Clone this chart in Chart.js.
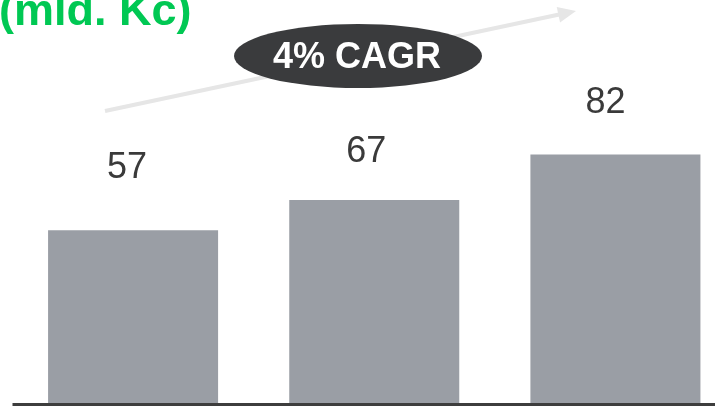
<!DOCTYPE html>
<html>
<head>
<meta charset="utf-8">
<script src="https://cdn.jsdelivr.net/npm/chart.js@4"></script>
<style>
  html, body { margin: 0; padding: 0; background: #fff; overflow: hidden; }
  #wrap { width: 736px; height: 407px; }
</style>
</head>
<body>
<div id="wrap"><canvas id="revenueChart" width="736" height="407"></canvas></div>
<script>
// Revenue by year (bn CZK)
const years = ['2019', '2020', '2021'];
const revenue = [57, 67, 82];
const cagrLabel = '4% CAGR';
const unitLabel = '(mld. Kc)';

// value labels sit a little left of and above each bar
const labelShiftX = [-6, -8, -10];
const labelLift = [52, 38, 42];

const overlay = {
    id: 'overlay',
    afterDatasetsDraw(chart) {
        const ctx = chart.ctx;
        const area = chart.chartArea;
        const bars = chart.getDatasetMeta(0).data;

        ctx.save();

        // baseline
        ctx.strokeStyle = '#3d3d3d';
        ctx.lineWidth = 3;
        ctx.beginPath();
        ctx.moveTo(area.left, area.bottom + 1.5);
        ctx.lineTo(chart.width, area.bottom + 1.5);
        ctx.stroke();

        // value labels
        ctx.fillStyle = '#3a3a3a';
        ctx.font = '36px "Liberation Sans", Arial, sans-serif';
        ctx.textAlign = 'center';
        ctx.textBaseline = 'alphabetic';
        bars.forEach((bar, i) => {
            ctx.fillText(String(revenue[i]), bar.x + labelShiftX[i], bar.y - labelLift[i]);
        });

        // growth arrow
        const x0 = 105, y0 = 111, x1 = 576, y1 = 11;
        const ang = Math.atan2(y1 - y0, x1 - x0);
        ctx.strokeStyle = '#e6e6e6';
        ctx.fillStyle = '#e6e6e6';
        ctx.lineWidth = 4;
        ctx.beginPath();
        ctx.moveTo(x0, y0);
        ctx.lineTo(x1 - 16 * Math.cos(ang), y1 - 16 * Math.sin(ang));
        ctx.stroke();
        ctx.beginPath();
        ctx.moveTo(x1, y1);
        ctx.lineTo(x1 - 18 * Math.cos(ang) + 8 * Math.sin(ang), y1 - 18 * Math.sin(ang) - 8 * Math.cos(ang));
        ctx.lineTo(x1 - 18 * Math.cos(ang) - 8 * Math.sin(ang), y1 - 18 * Math.sin(ang) + 8 * Math.cos(ang));
        ctx.closePath();
        ctx.fill();

        // CAGR badge
        ctx.fillStyle = '#3a3b3d';
        ctx.beginPath();
        ctx.ellipse(358, 56, 124, 32, 0, 0, Math.PI * 2);
        ctx.fill();
        ctx.fillStyle = '#ffffff';
        ctx.font = 'bold 36px "Liberation Sans", Arial, sans-serif';
        ctx.textBaseline = 'middle';
        ctx.fillText(cagrLabel, 357, 58);

        // unit title
        ctx.fillStyle = '#00c853';
        ctx.font = 'bold 45px "Liberation Sans", Arial, sans-serif';
        ctx.textAlign = 'left';
        ctx.textBaseline = 'alphabetic';
        ctx.fillText(unitLabel, -1, 25);

        ctx.restore();
    }
};

new Chart(document.getElementById('revenueChart'), {
    type: 'bar',
    data: {
        labels: years,
        datasets: [{
            data: revenue,
            backgroundColor: '#9a9ea5',
            categoryPercentage: 1,
            barPercentage: 0.705
        }]
    },
    options: {
        responsive: false,
        animation: false,
        layout: { padding: { left: 12.5, right: 0, top: 100, bottom: 4 } },
        plugins: { legend: { display: false }, tooltip: { enabled: false } },
        scales: {
            x: { display: false },
            y: { display: false, min: 0, max: 100 }
        }
    },
    plugins: [overlay]
});
</script>
</body>
</html>
